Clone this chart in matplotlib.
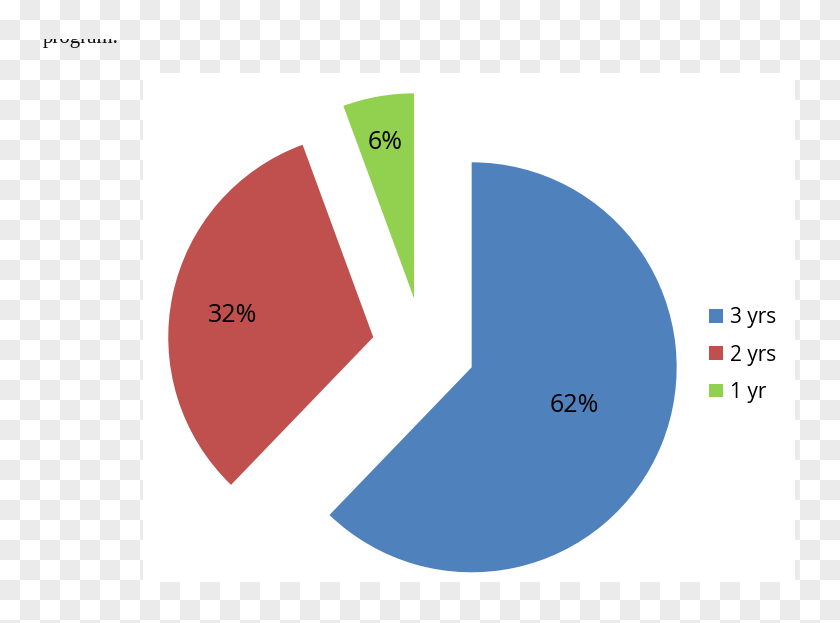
import numpy as np
import matplotlib
matplotlib.use("Agg")
import matplotlib.pyplot as plt
from matplotlib.patches import Rectangle

# ---- data ----
categories = ["3 yrs", "2 yrs", "1 yr"]
shares = [62.2, 32.2, 5.6]
colors = ["#4F81BD", "#C0504D", "#92D050"]
explode = [0.257, 0.247, 0.244]
# label placement (style): distance from wedge apex (in radii) and angle shift from bisector (deg)
label_dist = [0.533, 0.695, 0.773]
label_shift = [1.45, 3.3, 0.3]

W, H = 840, 623
fig = plt.figure(figsize=(W / 100, H / 100), dpi=100)

# checkerboard background (transparency pattern)
bg = fig.add_axes([0, 0, 1, 1])
rows, cols = 32, 42
pattern = (np.add.outer(np.arange(rows), np.arange(cols)) % 2).astype(float)
bg.imshow(pattern, cmap=matplotlib.colors.ListedColormap(["#ffffff", "#ebebeb"]),
          extent=(0, cols * 20, rows * 20, 0), interpolation="nearest", aspect="auto")
bg.set_xlim(0, W)
bg.set_ylim(H, 0)
bg.add_patch(Rectangle((142.5, 73), 795 - 142.5, 582 - 73, facecolor="white", edgecolor="none"))
bg.axis("off")

# clipped caption fragment at top-left
cap = fig.add_axes([0, 1 - 60 / H, 0.3, (60 - 39) / H])
cap.set_xlim(0, 0.3 * W)
cap.set_ylim(60, 39)
cap.patch.set_alpha(0)
cap.axis("off")
cap.text(43, 42.5, "program.", family="Liberation Serif", fontsize=15, color="#111111",
         va="baseline", ha="left", clip_on=True)

# pie
ax = fig.add_axes([0, 0, 1, 1])
ax.patch.set_alpha(0)
wedges, texts, autotexts = ax.pie(
    shares, colors=colors, explode=explode, startangle=90, counterclock=False,
    radius=1.0, autopct="%.0f%%", pctdistance=0.6,
    textprops=dict(family="Open Sans", fontsize=18, color="black"),
    wedgeprops=dict(linewidth=0),
)
for w, t, d, s in zip(wedges, autotexts, label_dist, label_shift):
    th = np.deg2rad(0.5 * (w.theta1 + w.theta2) + s)
    cx, cy = w.center
    t.set_position((cx + d * np.cos(th), cy + d * np.sin(th)))
    t.set_ha("center")
    t.set_va("center")

cx_px, cy_px, r_px = 422.8, 347.6, 205.0
ax.set_xlim(-cx_px / r_px, (W - cx_px) / r_px)
ax.set_ylim((cy_px - H) / r_px, cy_px / r_px)
ax.set_aspect("auto")
ax.axis("off")

ax.legend(wedges, categories, loc="center left",
          bbox_to_anchor=(709.3 / W, 1 - 355 / H), bbox_transform=fig.transFigure,
          frameon=False, borderpad=0, borderaxespad=0,
          prop=dict(family="Open Sans", size=15),
          handlelength=0.68, handleheight=0.64, handletextpad=0.3, labelspacing=0.78)

fig.savefig("out.png", dpi=100)
